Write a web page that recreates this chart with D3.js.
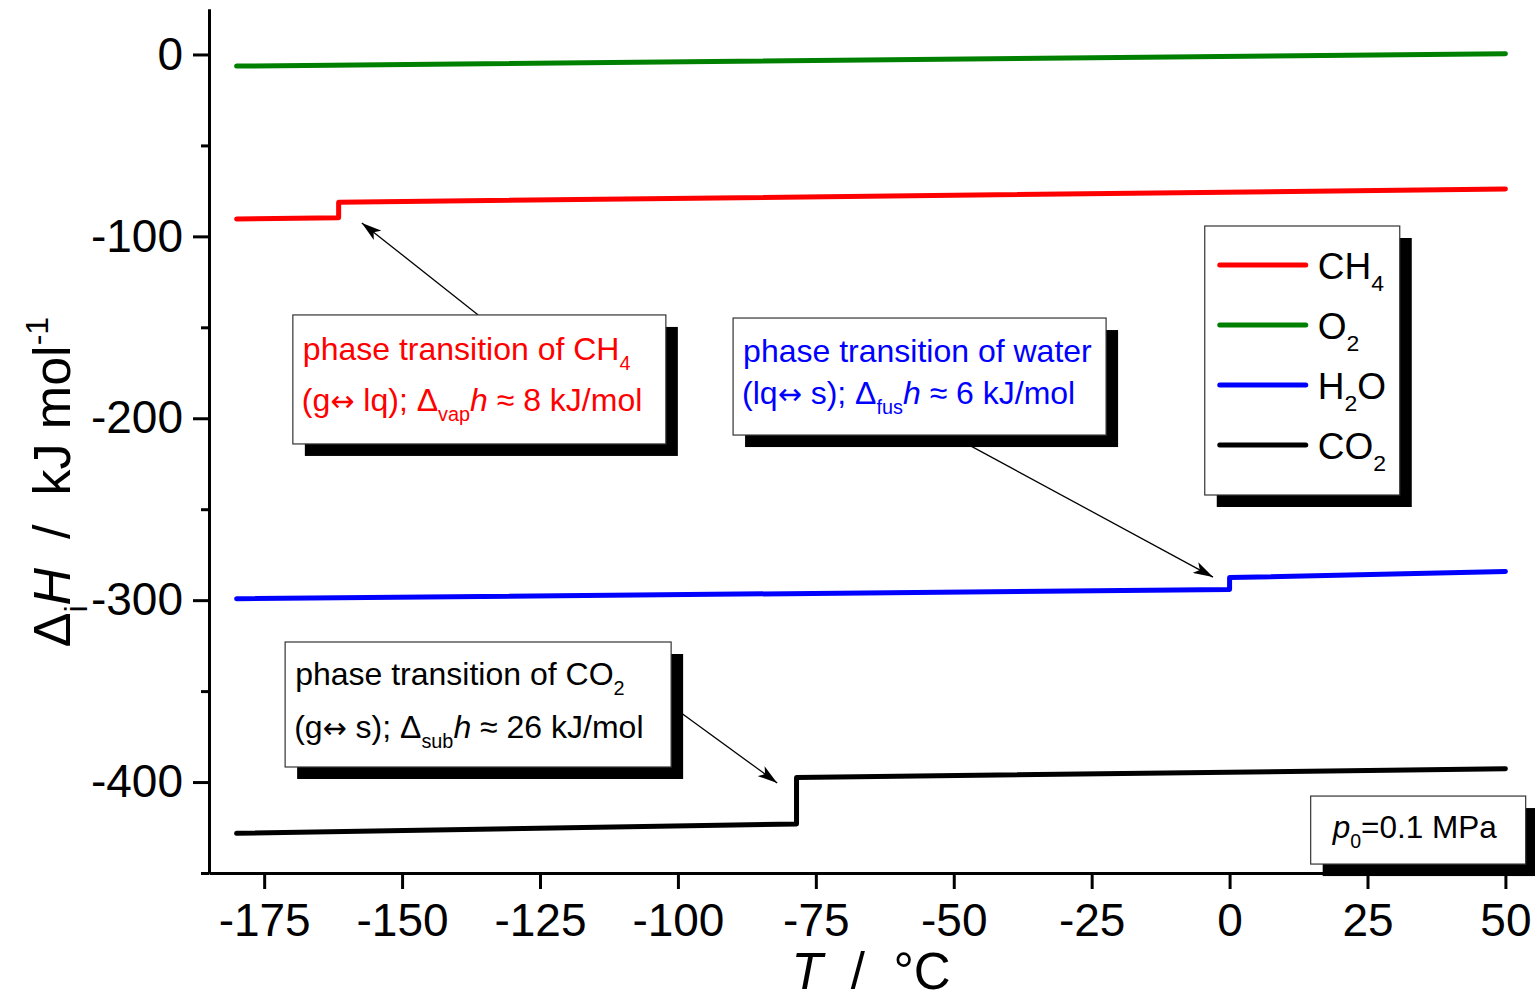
<!DOCTYPE html>
<html>
<head>
<meta charset="utf-8">
<script src="https://cdn.jsdelivr.net/npm/d3@7"></script>
<style>
  body { margin: 0; background: #fff; }
  text { font-family: "Liberation Sans", Arial, sans-serif; white-space: pre; }
</style>
</head>
<body>
<div id="chart"></div>
<script>
// Dados
const tCH4 = [-180, -161.5, -161.5, 50]
const hCH4 = [-90.5, -89.7, -81.2, -74.0]
const tO2 = [-180, 50]
const hO2 = [-6.4, 0.4]
const tH2O = [-180, 0, 0, 50]
const hH2O = [-299.2, -294.2, -287.6, -284.2]
const tCO2 = [-180, -78.5, -78.5, 50]
const hCO2 = [-428.2, -423.0, -397.5, -392.7]

const seriesNames = ["CH4", "O2", "H2O", "CO2"]
const seriesColors = ["#ff0000", "#008000", "#0000ff", "#000000"]

const xTicks = [-175, -150, -125, -100, -75, -50, -25, 0, 25, 50]
const yTicks = [0, -100, -200, -300, -400]
const yMinor = [-50, -150, -250, -350, -450]

const width = 1535
const height = 1000

// Container
let svg = d3.select("#chart")
  .append("svg")
  .attr("width", width)
  .attr("height", height)

svg.append("rect").attr("width", width).attr("height", height).attr("fill", "#fff")

// Escalas
const x = d3.scaleLinear().domain([-185, 55]).range([209, 1533])
const y = d3.scaleLinear().domain([-450, 25]).range([873, 9])

// texto com sub/sobrescrito
let rich = (sel, parts, size) => {
  let shift = 0
  parts.forEach(p => {
    let target = p.sub ? size * 0.32 : p.sup ? -size * 0.42 : 0
    let ts = sel.append("tspan").attr("dy", target - shift).text(p.t)
    shift = target
    if (p.sub || p.sup) ts.attr("font-size", size * 0.62)
    if (p.it) ts.attr("font-style", "italic")
    if (p.sym) ts.style("font-family", '"DejaVu Sans", sans-serif').attr("font-size", size * 0.9)
  })
}

// Eixos
const axisStyle = g => {
  g.select(".domain").attr("stroke-width", 3)
  g.selectAll(".tick line").attr("stroke-width", 3)
  g.selectAll("text").attr("font-size", 46).attr("fill", "#000")
    .style("font-family", '"Liberation Sans", Arial, sans-serif')
}
const fmt = d => String(d)

svg.append("g")
  .attr("transform", "translate(209,0)")
  .call(d3.axisLeft(y).tickValues(yMinor).tickSize(8).tickSizeOuter(0).tickFormat(""))
  .call(axisStyle)

svg.append("g")
  .attr("transform", "translate(0,873)")
  .call(d3.axisBottom(x).tickValues(xTicks).tickSize(16).tickSizeOuter(0).tickPadding(14).tickFormat(fmt))
  .call(axisStyle)

svg.append("g")
  .attr("transform", "translate(209,0)")
  .call(d3.axisLeft(y).tickValues(yTicks).tickSize(16).tickSizeOuter(0).tickPadding(10).tickFormat(fmt))
  .call(axisStyle)

// Linhas
const line = d3.line().x(d => x(d[0])).y(d => y(d[1]))
const allT = [tCH4, tO2, tH2O, tCO2]
const allH = [hCH4, hO2, hH2O, hCO2]

allT.forEach((ts, i) => {
  svg.append("path")
    .datum(ts.map((t, j) => [t, allH[i][j]]))
    .attr("d", line)
    .attr("fill", "none")
    .attr("stroke", seriesColors[i])
    .attr("stroke-width", 5)
    .attr("stroke-linecap", "round")
    .attr("stroke-linejoin", "round")
})

// Caixas com sombra
let box = (t0, h0, w, h) => {
  let bx = x(t0), by = y(h0)
  svg.append("rect").attr("x", bx + 12).attr("y", by + 12).attr("width", w).attr("height", h).attr("fill", "#000")
  svg.append("rect").attr("x", bx).attr("y", by).attr("width", w).attr("height", h)
    .attr("fill", "#fff").attr("stroke", "#333").attr("stroke-width", 1.2)
  return [bx, by]
}

// Setas
svg.append("defs").append("marker")
  .attr("id", "arrow")
  .attr("viewBox", "0 0 20 12")
  .attr("refX", 20).attr("refY", 6)
  .attr("markerWidth", 20).attr("markerHeight", 12)
  .attr("markerUnits", "userSpaceOnUse")
  .attr("orient", "auto")
  .append("path").attr("d", "M0,0 L20,6 L0,12 L5,6 Z").attr("fill", "#000")

const arrows = [
  [[-136.2, -143.2], [-157.3, -92.6]],
  [[-50.3, -209.7], [-3.0, -287.3]],
  [[-99.4, -362.0], [-82.0, -400.5]]
]
arrows.forEach(a => {
  svg.append("line")
    .attr("x1", x(a[0][0])).attr("y1", y(a[0][1]))
    .attr("x2", x(a[1][0])).attr("y2", y(a[1][1]))
    .attr("stroke", "#000").attr("stroke-width", 1.3)
    .attr("marker-end", "url(#arrow)")
})

// Anotacoes
const notes = [
  { t0: -169.8, h0: -143.2, w: 373, h: 129, color: "#ff0000", dy: [45, 96],
    l1: [{ t: "phase transition of CH" }, { t: "4", sub: true }],
    l2: [{ t: "(g" }, { t: "\u2194", sym: true }, { t: " lq); \u0394" }, { t: "vap", sub: true }, { t: "h", it: true }, { t: " \u2248 8 kJ/mol" }] },
  { t0: -90.0, h0: -144.9, w: 373, h: 117, color: "#0000ff", dy: [44, 86],
    l1: [{ t: "phase transition of water" }],
    l2: [{ t: "(lq" }, { t: "\u2194", sym: true }, { t: " s); \u0394" }, { t: "fus", sub: true }, { t: "h", it: true }, { t: " \u2248 6 kJ/mol" }] },
  { t0: -171.2, h0: -323.0, w: 386, h: 125, color: "#000000", dy: [43, 96],
    l1: [{ t: "phase transition of CO" }, { t: "2", sub: true }],
    l2: [{ t: "(g" }, { t: "\u2194", sym: true }, { t: " s); \u0394" }, { t: "sub", sub: true }, { t: "h", it: true }, { t: " \u2248 26 kJ/mol" }] }
]

notes.forEach(n => {
  let [bx, by] = box(n.t0, n.h0, n.w, n.h)
  rich(svg.append("text").attr("x", bx + 10).attr("y", by + n.dy[0]).attr("font-size", 32).attr("fill", n.color), n.l1, 32)
  rich(svg.append("text").attr("x", bx + 9).attr("y", by + n.dy[1]).attr("font-size", 32).attr("fill", n.color), n.l2, 32)
})

// Legenda
let [lx, ly] = box(-4.5, -94.3, 195, 269)
const legendParts = [
  [{ t: "CH" }, { t: "4", sub: true }],
  [{ t: "O" }, { t: "2", sub: true }],
  [{ t: "H" }, { t: "2", sub: true }, { t: "O" }],
  [{ t: "CO" }, { t: "2", sub: true }]
]
seriesNames.forEach((s, i) => {
  let yy = ly + 39 + i * 60
  svg.append("line").attr("x1", lx + 15).attr("x2", lx + 101).attr("y1", yy).attr("y2", yy)
    .attr("stroke", seriesColors[i]).attr("stroke-width", 5).attr("stroke-linecap", "round")
  rich(svg.append("text").attr("x", lx + 113).attr("y", yy + 14).attr("font-size", 37).attr("fill", "#000"), legendParts[i], 37)
})

// p0
let [px, py] = box(14.7, -407.7, 215, 68)
rich(svg.append("text").attr("x", px + 22).attr("y", py + 42).attr("font-size", 31.5).attr("fill", "#000"),
  [{ t: "p", it: true }, { t: "0", sub: true }, { t: "=0.1 MPa" }], 31.5)

// Titulos dos eixos
rich(svg.append("text").attr("x", 871).attr("y", 989).attr("text-anchor", "middle").attr("font-size", 51),
  [{ t: "T", it: true }, { t: "  /  \u00b0C" }], 51)

rich(svg.append("text").attr("transform", "translate(70,482) rotate(-90)").attr("text-anchor", "middle").attr("font-size", 52),
  [{ t: "\u0394" }, { t: "i", sub: true }, { t: "H", it: true }, { t: "  /  kJ mol" }, { t: "-1", sup: true }], 52)
</script>
</body>
</html>
